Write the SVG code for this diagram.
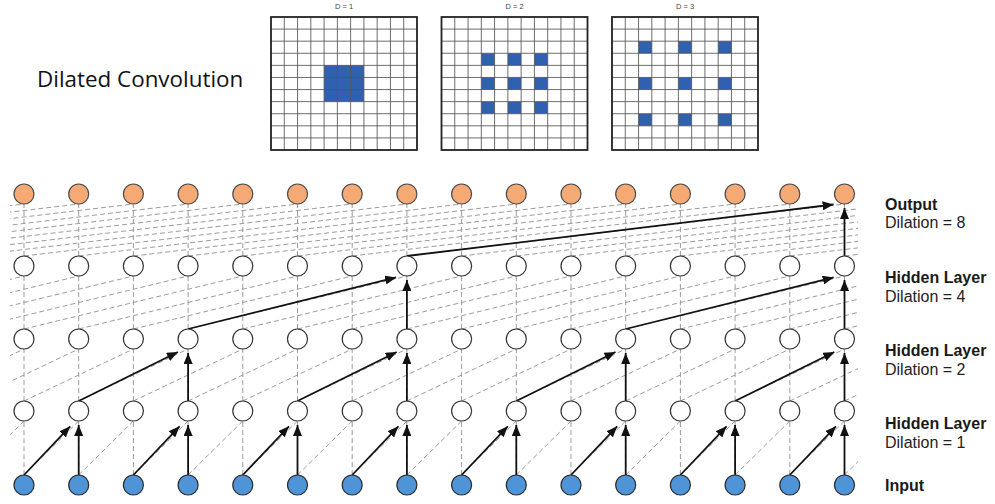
<svg xmlns="http://www.w3.org/2000/svg" xmlns:xlink="http://www.w3.org/1999/xlink" width="995" height="504" viewBox="0 0 995 504">
<style>
.bg{fill:#ffffff}
.title{font-family:"Open Sans","Noto Sans",sans-serif;font-size:22.4px;fill:#111}
.dl{font-family:"Liberation Sans",Arial,sans-serif;font-size:7.5px;fill:#444;text-anchor:middle}
.gl{fill:none;stroke:#555;stroke-width:1;stroke-opacity:0.85}
.gb{fill:none;stroke:#222;stroke-width:1.8}
.cell{fill:#3061b0}
.dash{fill:none;stroke:#9c9c9c;stroke-width:1;stroke-dasharray:5 3}
.arr{fill:none;stroke:#111;stroke-width:1.8;marker-end:url(#ah)}
.in{fill:#4f94d6;stroke:#2b2b2b;stroke-width:1.2}
.hid{fill:#ffffff;stroke:#333;stroke-width:1.2}
.out{fill:#f5a974;stroke:#4a4a4a;stroke-width:1.2}
.lb{font-family:"Liberation Sans",Arial,sans-serif;font-size:16px;font-weight:bold;fill:#1a1a1a}
.ld{font-family:"Liberation Sans",Arial,sans-serif;font-size:16px;fill:#222}
</style>
<defs>
<marker id="ah" markerWidth="11" markerHeight="9" refX="11" refY="4.5" orient="auto" markerUnits="userSpaceOnUse">
<path d="M0,0 L11,4.5 L0,9 z" fill="#111"/>
</marker>
<clipPath id="clip"><rect x="10" y="180" width="848" height="320"/></clipPath>
<g id="gridlines">
<path class="gl" d="M13.27 0V133M26.55 0V133M39.82 0V133M53.09 0V133M66.36 0V133M79.64 0V133M92.91 0V133M106.18 0V133M119.45 0V133M132.73 0V133M0 12.09H146M0 24.18H146M0 36.27H146M0 48.36H146M0 60.45H146M0 72.55H146M0 84.64H146M0 96.73H146M0 108.82H146M0 120.91H146"/>
<rect class="gb" x="0" y="0" width="146" height="133"/>
</g>
</defs>
<rect class="bg" x="0" y="0" width="995" height="504"/>

<text class="title" x="37" y="87">Dilated Convolution</text>

<g id="grid1" transform="translate(271,17)">
<rect x="0" y="0" width="146" height="133" fill="#fff"/>
<rect class="cell" x="53.09" y="48.36" width="39.82" height="36.27"/>
<use xlink:href="#gridlines"/>
<text class="dl" x="73" y="-8">D = 1</text>
</g>
<g id="grid2" transform="translate(441.5,17)">
<rect x="0" y="0" width="146" height="133" fill="#fff"/>
<rect class="cell" x="39.82" y="36.27" width="13.27" height="12.09"/>
<rect class="cell" x="66.36" y="36.27" width="13.27" height="12.09"/>
<rect class="cell" x="92.91" y="36.27" width="13.27" height="12.09"/>
<rect class="cell" x="39.82" y="60.45" width="13.27" height="12.09"/>
<rect class="cell" x="66.36" y="60.45" width="13.27" height="12.09"/>
<rect class="cell" x="92.91" y="60.45" width="13.27" height="12.09"/>
<rect class="cell" x="39.82" y="84.64" width="13.27" height="12.09"/>
<rect class="cell" x="66.36" y="84.64" width="13.27" height="12.09"/>
<rect class="cell" x="92.91" y="84.64" width="13.27" height="12.09"/>
<use xlink:href="#gridlines"/>
<text class="dl" x="73" y="-8">D = 2</text>
</g>
<g id="grid3" transform="translate(612,17)">
<rect x="0" y="0" width="146" height="133" fill="#fff"/>
<rect class="cell" x="26.55" y="24.18" width="13.27" height="12.09"/>
<rect class="cell" x="66.36" y="24.18" width="13.27" height="12.09"/>
<rect class="cell" x="106.18" y="24.18" width="13.27" height="12.09"/>
<rect class="cell" x="26.55" y="60.45" width="13.27" height="12.09"/>
<rect class="cell" x="66.36" y="60.45" width="13.27" height="12.09"/>
<rect class="cell" x="106.18" y="60.45" width="13.27" height="12.09"/>
<rect class="cell" x="26.55" y="96.73" width="13.27" height="12.09"/>
<rect class="cell" x="66.36" y="96.73" width="13.27" height="12.09"/>
<rect class="cell" x="106.18" y="96.73" width="13.27" height="12.09"/>
<use xlink:href="#gridlines"/>
<text class="dl" x="73" y="-8">D = 3</text>
</g>

<g id="connectors">
<g id="dashed" clip-path="url(#clip)">
<path class="dash" d="M24 475v-54m54.7 54v-54m54.7 54v-54m54.7 54v-54m54.7 54v-54m54.7 54v-54m54.7 54v-54m54.7 54v-54m54.7 54v-54m54.7 54v-54m54.7 54v-54m54.7 54v-54m54.7 54v-54m54.7 54v-54m54.7 54v-54m54.7 54v-54"/>
<path class="dash" d="M24 401v-52m54.7 52v-52m54.7 52v-52m54.7 52v-52m54.7 52v-52m54.7 52v-52m54.7 52v-52m54.7 52v-52m54.7 52v-52m54.7 52v-52m54.7 52v-52m54.7 52v-52m54.7 52v-52m54.7 52v-52m54.7 52v-52m54.7 52v-52"/>
<path class="dash" d="M24 329v-53m54.7 53v-53m54.7 53v-53m54.7 53v-53m54.7 53v-53m54.7 53v-53m54.7 53v-53m54.7 53v-53m54.7 53v-53m54.7 53v-53m54.7 53v-53m54.7 53v-53m54.7 53v-53m54.7 53v-53m54.7 53v-53m54.7 53v-53"/>
<path class="dash" d="M24 256v-52m54.7 52v-52m54.7 52v-52m54.7 52v-52m54.7 52v-52m54.7 52v-52m54.7 52v-52m54.7 52v-52m54.7 52v-52m54.7 52v-52m54.7 52v-52m54.7 52v-52m54.7 52v-52m54.7 52v-52m54.7 52v-52m54.7 52v-52"/>
<path class="dash" d="M-30.7 475l54.7-54m0 54l54.7-54m0 54l54.7-54m0 54l54.7-54m0 54l54.7-54m0 54l54.7-54m0 54l54.7-54m0 54l54.7-54m0 54l54.7-54m0 54l54.7-54m0 54l54.7-54m0 54l54.7-54m0 54l54.7-54m0 54l54.7-54m0 54l54.7-54m0 54l54.7-54m0 54l54.7-54"/>
<path class="dash" d="M-85.4 401l109.4-52m-54.7 52l109.4-52m-54.7 52l109.4-52m-54.7 52l109.4-52m-54.7 52l109.4-52m-54.7 52l109.4-52m-54.7 52l109.4-52m-54.7 52l109.4-52m-54.7 52l109.4-52m-54.7 52l109.4-52m-54.7 52l109.4-52m-54.7 52l109.4-52m-54.7 52l109.4-52m-54.7 52l109.4-52m-54.7 52l109.4-52m-54.7 52l109.4-52m-54.7 52l109.4-52m-54.7 52l109.4-52"/>
<path class="dash" d="M-194.8 329l218.8-53m-164.1 53l218.8-53m-164.1 53l218.8-53m-164.1 53l218.8-53m-164.1 53l218.8-53m-164.1 53l218.8-53m-164.1 53l218.8-53m-164.1 53l218.8-53m-164.1 53l218.8-53m-164.1 53l218.8-53m-164.1 53l218.8-53m-164.1 53l218.8-53m-164.1 53l218.8-53m-164.1 53l218.8-53m-164.1 53l218.8-53m-164.1 53l218.8-53m-164.1 53l218.8-53m-164.1 53l218.8-53m-164.1 53l218.8-53m-164.1 53l218.8-53"/>
<path class="dash" d="M-413.6 256l437.6-52m-382.9 52l437.6-52m-382.9 52l437.6-52m-382.9 52l437.6-52m-382.9 52l437.6-52m-382.9 52l437.6-52m-382.9 52l437.6-52m-382.9 52l437.6-52m-382.9 52l437.6-52m-382.9 52l437.6-52m-382.9 52l437.6-52m-382.9 52l437.6-52m-382.9 52l437.6-52m-382.9 52l437.6-52m-382.9 52l437.6-52m-382.9 52l437.6-52m-382.9 52l437.6-52m-382.9 52l437.6-52m-382.9 52l437.6-52m-382.9 52l437.6-52m-382.9 52l437.6-52m-382.9 52l437.6-52m-382.9 52l437.6-52m-382.9 52l437.6-52"/>
</g>
<g id="solid">
<path class="arr" d="M78.7 475V425"/>
<path class="arr" d="M188.1 475V425"/>
<path class="arr" d="M297.5 475V425"/>
<path class="arr" d="M406.9 475V425"/>
<path class="arr" d="M516.3 475V425"/>
<path class="arr" d="M625.7 475V425"/>
<path class="arr" d="M735.1 475V425"/>
<path class="arr" d="M844.5 475V425"/>
<path class="arr" d="M24 475L70.2 426.3"/>
<path class="arr" d="M133.4 475L179.6 426.3"/>
<path class="arr" d="M242.8 475L289 426.3"/>
<path class="arr" d="M352.2 475L398.4 426.3"/>
<path class="arr" d="M461.6 475L507.8 426.3"/>
<path class="arr" d="M571 475L617.2 426.3"/>
<path class="arr" d="M680.4 475L726.6 426.3"/>
<path class="arr" d="M789.8 475L836 426.3"/>
<path class="arr" d="M188.1 401V353"/>
<path class="arr" d="M406.9 401V353"/>
<path class="arr" d="M625.7 401V353"/>
<path class="arr" d="M844.5 401V353"/>
<path class="arr" d="M78.7 401L177.9 352"/>
<path class="arr" d="M297.5 401L396.7 352"/>
<path class="arr" d="M516.3 401L615.5 352"/>
<path class="arr" d="M735.1 401L834.3 352"/>
<path class="arr" d="M406.9 329V280"/>
<path class="arr" d="M844.5 329V280"/>
<path class="arr" d="M188.1 329L396.1 277.4"/>
<path class="arr" d="M625.7 329L833.7 277.4"/>
<path class="arr" d="M844.5 256V208"/>
<path class="arr" d="M406.9 256L833.6 204.5"/>
</g>
</g>

<g id="nodes">
<g id="in0"><circle class="in" cx="24" cy="485" r="10"/></g>
<g id="in1"><circle class="in" cx="78.7" cy="485" r="10"/></g>
<g id="in2"><circle class="in" cx="133.4" cy="485" r="10"/></g>
<g id="in3"><circle class="in" cx="188.1" cy="485" r="10"/></g>
<g id="in4"><circle class="in" cx="242.8" cy="485" r="10"/></g>
<g id="in5"><circle class="in" cx="297.5" cy="485" r="10"/></g>
<g id="in6"><circle class="in" cx="352.2" cy="485" r="10"/></g>
<g id="in7"><circle class="in" cx="406.9" cy="485" r="10"/></g>
<g id="in8"><circle class="in" cx="461.6" cy="485" r="10"/></g>
<g id="in9"><circle class="in" cx="516.3" cy="485" r="10"/></g>
<g id="in10"><circle class="in" cx="571" cy="485" r="10"/></g>
<g id="in11"><circle class="in" cx="625.7" cy="485" r="10"/></g>
<g id="in12"><circle class="in" cx="680.4" cy="485" r="10"/></g>
<g id="in13"><circle class="in" cx="735.1" cy="485" r="10"/></g>
<g id="in14"><circle class="in" cx="789.8" cy="485" r="10"/></g>
<g id="in15"><circle class="in" cx="844.5" cy="485" r="10"/></g>

<g id="h1_0"><circle class="hid" cx="24" cy="411" r="10"/></g>
<g id="h1_1"><circle class="hid" cx="78.7" cy="411" r="10"/></g>
<g id="h1_2"><circle class="hid" cx="133.4" cy="411" r="10"/></g>
<g id="h1_3"><circle class="hid" cx="188.1" cy="411" r="10"/></g>
<g id="h1_4"><circle class="hid" cx="242.8" cy="411" r="10"/></g>
<g id="h1_5"><circle class="hid" cx="297.5" cy="411" r="10"/></g>
<g id="h1_6"><circle class="hid" cx="352.2" cy="411" r="10"/></g>
<g id="h1_7"><circle class="hid" cx="406.9" cy="411" r="10"/></g>
<g id="h1_8"><circle class="hid" cx="461.6" cy="411" r="10"/></g>
<g id="h1_9"><circle class="hid" cx="516.3" cy="411" r="10"/></g>
<g id="h1_10"><circle class="hid" cx="571" cy="411" r="10"/></g>
<g id="h1_11"><circle class="hid" cx="625.7" cy="411" r="10"/></g>
<g id="h1_12"><circle class="hid" cx="680.4" cy="411" r="10"/></g>
<g id="h1_13"><circle class="hid" cx="735.1" cy="411" r="10"/></g>
<g id="h1_14"><circle class="hid" cx="789.8" cy="411" r="10"/></g>
<g id="h1_15"><circle class="hid" cx="844.5" cy="411" r="10"/></g>

<g id="h2_0"><circle class="hid" cx="24" cy="339" r="10"/></g>
<g id="h2_1"><circle class="hid" cx="78.7" cy="339" r="10"/></g>
<g id="h2_2"><circle class="hid" cx="133.4" cy="339" r="10"/></g>
<g id="h2_3"><circle class="hid" cx="188.1" cy="339" r="10"/></g>
<g id="h2_4"><circle class="hid" cx="242.8" cy="339" r="10"/></g>
<g id="h2_5"><circle class="hid" cx="297.5" cy="339" r="10"/></g>
<g id="h2_6"><circle class="hid" cx="352.2" cy="339" r="10"/></g>
<g id="h2_7"><circle class="hid" cx="406.9" cy="339" r="10"/></g>
<g id="h2_8"><circle class="hid" cx="461.6" cy="339" r="10"/></g>
<g id="h2_9"><circle class="hid" cx="516.3" cy="339" r="10"/></g>
<g id="h2_10"><circle class="hid" cx="571" cy="339" r="10"/></g>
<g id="h2_11"><circle class="hid" cx="625.7" cy="339" r="10"/></g>
<g id="h2_12"><circle class="hid" cx="680.4" cy="339" r="10"/></g>
<g id="h2_13"><circle class="hid" cx="735.1" cy="339" r="10"/></g>
<g id="h2_14"><circle class="hid" cx="789.8" cy="339" r="10"/></g>
<g id="h2_15"><circle class="hid" cx="844.5" cy="339" r="10"/></g>

<g id="h4_0"><circle class="hid" cx="24" cy="266" r="10"/></g>
<g id="h4_1"><circle class="hid" cx="78.7" cy="266" r="10"/></g>
<g id="h4_2"><circle class="hid" cx="133.4" cy="266" r="10"/></g>
<g id="h4_3"><circle class="hid" cx="188.1" cy="266" r="10"/></g>
<g id="h4_4"><circle class="hid" cx="242.8" cy="266" r="10"/></g>
<g id="h4_5"><circle class="hid" cx="297.5" cy="266" r="10"/></g>
<g id="h4_6"><circle class="hid" cx="352.2" cy="266" r="10"/></g>
<g id="h4_7"><circle class="hid" cx="406.9" cy="266" r="10"/></g>
<g id="h4_8"><circle class="hid" cx="461.6" cy="266" r="10"/></g>
<g id="h4_9"><circle class="hid" cx="516.3" cy="266" r="10"/></g>
<g id="h4_10"><circle class="hid" cx="571" cy="266" r="10"/></g>
<g id="h4_11"><circle class="hid" cx="625.7" cy="266" r="10"/></g>
<g id="h4_12"><circle class="hid" cx="680.4" cy="266" r="10"/></g>
<g id="h4_13"><circle class="hid" cx="735.1" cy="266" r="10"/></g>
<g id="h4_14"><circle class="hid" cx="789.8" cy="266" r="10"/></g>
<g id="h4_15"><circle class="hid" cx="844.5" cy="266" r="10"/></g>

<g id="out0"><circle class="out" cx="24" cy="194" r="10"/></g>
<g id="out1"><circle class="out" cx="78.7" cy="194" r="10"/></g>
<g id="out2"><circle class="out" cx="133.4" cy="194" r="10"/></g>
<g id="out3"><circle class="out" cx="188.1" cy="194" r="10"/></g>
<g id="out4"><circle class="out" cx="242.8" cy="194" r="10"/></g>
<g id="out5"><circle class="out" cx="297.5" cy="194" r="10"/></g>
<g id="out6"><circle class="out" cx="352.2" cy="194" r="10"/></g>
<g id="out7"><circle class="out" cx="406.9" cy="194" r="10"/></g>
<g id="out8"><circle class="out" cx="461.6" cy="194" r="10"/></g>
<g id="out9"><circle class="out" cx="516.3" cy="194" r="10"/></g>
<g id="out10"><circle class="out" cx="571" cy="194" r="10"/></g>
<g id="out11"><circle class="out" cx="625.7" cy="194" r="10"/></g>
<g id="out12"><circle class="out" cx="680.4" cy="194" r="10"/></g>
<g id="out13"><circle class="out" cx="735.1" cy="194" r="10"/></g>
<g id="out14"><circle class="out" cx="789.8" cy="194" r="10"/></g>
<g id="out15"><circle class="out" cx="844.5" cy="194" r="10"/></g>
</g>

<g id="labels">
<text class="lb" x="885" y="209.5">Output</text>
<text class="ld" x="885" y="228">Dilation = 8</text>
<text class="lb" x="885" y="283">Hidden Layer</text>
<text class="ld" x="885" y="301.5">Dilation = 4</text>
<text class="lb" x="885" y="356">Hidden Layer</text>
<text class="ld" x="885" y="374.5">Dilation = 2</text>
<text class="lb" x="885" y="429">Hidden Layer</text>
<text class="ld" x="885" y="447.5">Dilation = 1</text>
<text class="lb" x="885" y="491">Input</text>
</g>
</svg>
